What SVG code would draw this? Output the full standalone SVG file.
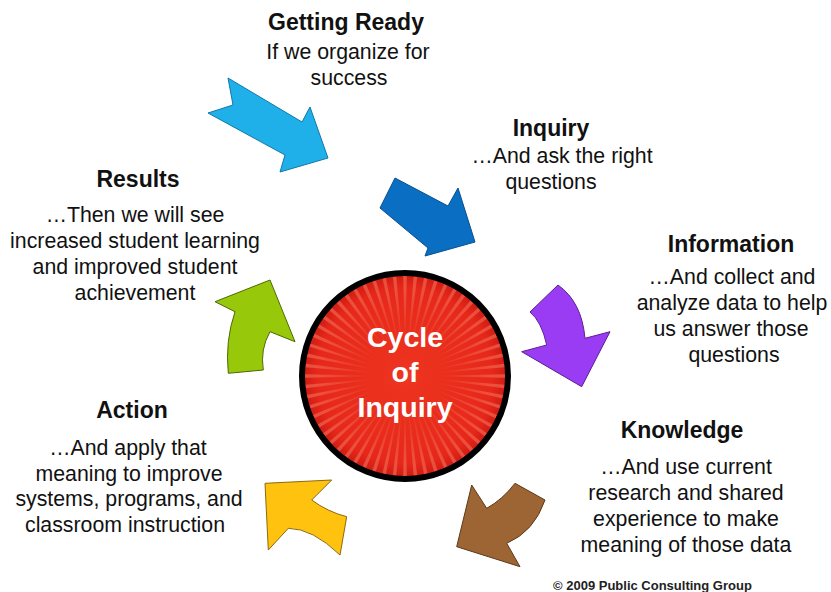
<svg xmlns="http://www.w3.org/2000/svg" xmlns:xlink="http://www.w3.org/1999/xlink" width="831" height="592" viewBox="0 0 831 592">
<style>
.t{font-family:"Liberation Sans",Arial,sans-serif;font-weight:bold;font-size:23px;fill:#111;text-anchor:middle}
.b{font-family:"Liberation Sans",Arial,sans-serif;font-size:21.3px;fill:#111;text-anchor:middle}
.c{font-family:"Liberation Sans",Arial,sans-serif;font-weight:bold;font-size:28.5px;fill:#fff;text-anchor:middle}
.arrow{stroke-width:1;stroke-linejoin:miter}
</style>
<defs>
<radialGradient id="redFill" cx="405" cy="376" r="103" gradientUnits="userSpaceOnUse">
<stop offset="0" stop-color="#ee3520"/>
<stop offset="0.85" stop-color="#e6281a"/>
<stop offset="1" stop-color="#cf1a12"/>
</radialGradient>
<radialGradient id="rayGrad" cx="0" cy="0" r="100" gradientUnits="userSpaceOnUse">
<stop offset="0.35" stop-color="#ffb49a" stop-opacity="0"/>
<stop offset="0.8" stop-color="#ffa088" stop-opacity="0.3"/>
<stop offset="1" stop-color="#ff9a80" stop-opacity="0.4"/>
</radialGradient>
<polygon id="ray" points="0,-20 -1.8,-100 1.8,-100" fill="url(#rayGrad)"/>
<g id="ray6">
<use xlink:href="#ray"/>
<use xlink:href="#ray" transform="rotate(6)"/>
<use xlink:href="#ray" transform="rotate(12)"/>
<use xlink:href="#ray" transform="rotate(18)"/>
<use xlink:href="#ray" transform="rotate(24)"/>
<use xlink:href="#ray" transform="rotate(30)"/>
</g>
<clipPath id="disc"><circle cx="0" cy="0" r="100"/></clipPath>
</defs>
<rect width="831" height="592" fill="#fff"/>

<g id="connectors">
<polygon id="arrow-getting-ready" class="arrow" fill="#1fb0ea" stroke="#1278a8" points="228,78 302,122 310,107 328,158 280,172 285,155 208,113 233,105"/>
<polygon id="arrow-inquiry" class="arrow" fill="#0a6ec2" stroke="#07508e" points="395,178 448,206 458,188 475,242 425,256 428,248 380,208"/>
<path id="arrow-information" class="arrow" fill="#9b3cf5" stroke="#5a2090" d="M558,285 L530,312 Q541.6,321.6 546.7,345 L521.7,351.7 L581.7,386.7 L610,331.7 L585,338.3 Q581.7,301.7 558,285 Z"/>
<path id="arrow-knowledge" class="arrow" fill="#9c6533" stroke="#5c3a18" d="M515,483.3 L545,500 Q534.2,531.7 506.7,543.3 L520,566.7 L456.7,546.7 L471.7,485 L486.7,508.3 Q502.5,499.6 515,483.3 Z"/>
<path id="arrow-action" class="arrow" fill="#ffc20e" stroke="#8a6a10" d="M265,483.3 L331.7,480 L311.7,500 Q327.4,511.7 346.7,516.7 L340,555 Q312.5,528.4 288.3,528.3 L268.3,550 Z"/>
<path id="arrow-results" class="arrow" fill="#97c80a" stroke="#4e6a05" d="M228.3,373.3 L263.3,370 Q260,349.2 270,331.7 L295,341.7 L270,280 L215,301.7 L235,311.7 Q225,340.9 228.3,373.3 Z"/>
</g>

<g id="node-cycle">
<circle cx="405" cy="376" r="103" fill="url(#redFill)" stroke="#000" stroke-width="6"/>
<g transform="translate(405,376)" clip-path="url(#disc)">
<use xlink:href="#ray6"/>
<use xlink:href="#ray6" transform="rotate(36)"/>
<use xlink:href="#ray6" transform="rotate(72)"/>
<use xlink:href="#ray6" transform="rotate(108)"/>
<use xlink:href="#ray6" transform="rotate(144)"/>
<use xlink:href="#ray6" transform="rotate(180)"/>
<use xlink:href="#ray6" transform="rotate(216)"/>
<use xlink:href="#ray6" transform="rotate(252)"/>
<use xlink:href="#ray6" transform="rotate(288)"/>
<use xlink:href="#ray6" transform="rotate(324)"/>
</g>
<text class="c" x="405" y="347">Cycle</text>
<text class="c" x="405" y="382">of</text>
<text class="c" x="405" y="417">Inquiry</text>
</g>

<g id="node-getting-ready">
<text class="t" x="346" y="30">Getting Ready</text>
<text class="b" x="348" y="59">If we organize for</text>
<text class="b" x="349" y="85">success</text>
</g>

<g id="node-inquiry">
<text class="t" x="551" y="136">Inquiry</text>
<text class="b" x="562" y="163">…And ask the right</text>
<text class="b" x="551" y="189">questions</text>
</g>

<g id="node-information">
<text class="t" x="731" y="252">Information</text>
<text class="b" x="732" y="284">…And collect and</text>
<text class="b" x="732" y="310">analyze data to help</text>
<text class="b" x="731" y="336">us answer those</text>
<text class="b" x="734" y="362">questions</text>
</g>

<g id="node-knowledge">
<text class="t" x="682" y="438">Knowledge</text>
<text class="b" x="686" y="474">…And use current</text>
<text class="b" x="686" y="500">research and shared</text>
<text class="b" x="686" y="526">experience to make</text>
<text class="b" x="686" y="552">meaning of those data</text>
</g>

<g id="node-action">
<text class="t" x="132" y="418">Action</text>
<text class="b" x="128" y="455">…And apply that</text>
<text class="b" x="129" y="481">meaning to improve</text>
<text class="b" x="129" y="506">systems, programs, and</text>
<text class="b" x="125" y="532">classroom instruction</text>
</g>

<g id="node-results">
<text class="t" x="138" y="187">Results</text>
<text class="b" x="135" y="222">…Then we will see</text>
<text class="b" x="135" y="248">increased student learning</text>
<text class="b" x="135" y="274">and improved student</text>
<text class="b" x="135" y="300">achievement</text>
</g>

<text x="553" y="590" font-family="Liberation Sans, Arial, sans-serif" font-weight="bold" font-size="13" fill="#222">© 2009 Public Consulting Group</text>
</svg>
